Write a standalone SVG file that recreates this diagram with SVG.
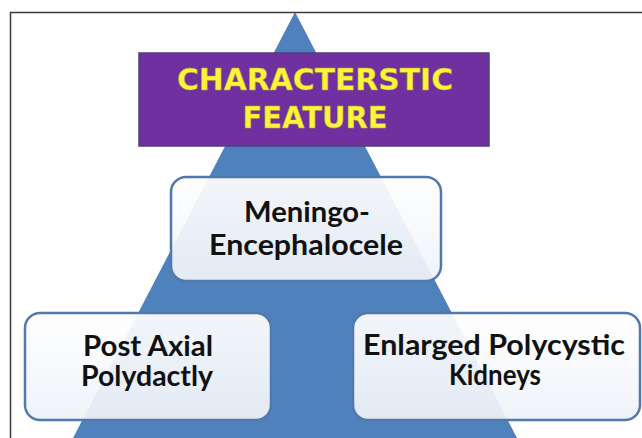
<svg xmlns="http://www.w3.org/2000/svg" width="642" height="438" viewBox="0 0 642 438">
  <defs>
    <linearGradient id="boxfill" x1="0" y1="0" x2="0" y2="1">
      <stop offset="0" stop-color="#ffffff"/>
      <stop offset="1" stop-color="#eef2f8"/>
    </linearGradient>
  </defs>
  <style>
    .box { fill: url(#boxfill); fill-opacity: 0.93; stroke: #5279ad; stroke-width: 2.5; }
    .lbl { font-family: Lato, "Open Sans", "Liberation Sans", sans-serif; font-weight: bold; font-size: 29px; fill: #111111; text-anchor: middle; }
    .ttl { font-family: "DejaVu Sans", "Liberation Sans", sans-serif; font-weight: bold; font-size: 31px; fill: #fbf43a; text-anchor: middle; stroke: #b8a82a; stroke-width: 0.4; }
  </style>
  <rect x="0" y="0" width="642" height="438" fill="#ffffff"/>
  <g id="pyramid">
    <polygon points="295,12 517,438 73,438" fill="#4f81bd"/>
  </g>
  <g id="frame">
    <path d="M10.5,438 V12.5 H642" fill="none" stroke="#3a3a3a" stroke-width="1.5"/>
  </g>
  <g id="connectors"></g>
  <g id="title">
    <rect x="139" y="53" width="350" height="93" fill="#7030a0" stroke="#4b3f7a" stroke-width="1.5"/>
    <text class="ttl" x="315" y="90" textLength="276" lengthAdjust="spacingAndGlyphs">CHARACTERSTIC</text>
    <text class="ttl" x="315" y="128" textLength="145" lengthAdjust="spacingAndGlyphs">FEATURE</text>
  </g>
  <g id="meningo">
    <rect class="box" x="171" y="177" width="270" height="104" rx="15"/>
    <text class="lbl" x="307" y="222" textLength="126" lengthAdjust="spacingAndGlyphs">Meningo-</text>
    <text class="lbl" x="306" y="255" textLength="194" lengthAdjust="spacingAndGlyphs">Encephalocele</text>
  </g>
  <g id="polydactly">
    <rect class="box" x="25" y="313" width="246" height="107" rx="15"/>
    <text class="lbl" x="148" y="356" textLength="130" lengthAdjust="spacingAndGlyphs">Post Axial</text>
    <text class="lbl" x="147" y="386" textLength="132" lengthAdjust="spacingAndGlyphs">Polydactly</text>
  </g>
  <g id="kidneys">
    <rect class="box" x="353" y="313" width="287" height="107" rx="15"/>
    <text class="lbl" x="494" y="355" textLength="262" lengthAdjust="spacingAndGlyphs">Enlarged Polycystic</text>
    <text class="lbl" x="495" y="385" textLength="92" lengthAdjust="spacingAndGlyphs">Kidneys</text>
  </g>
</svg>
